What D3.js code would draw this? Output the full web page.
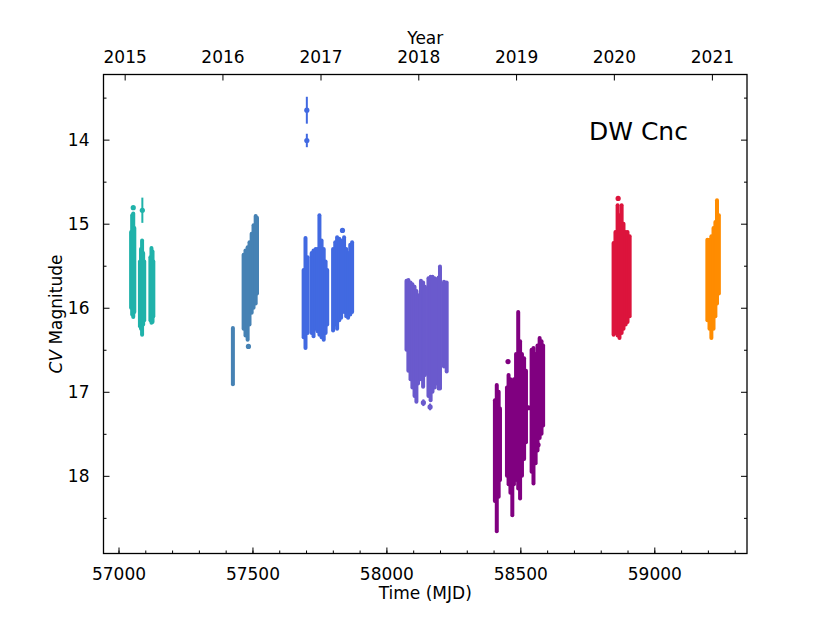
<!DOCTYPE html>
<html>
<head>
<meta charset="utf-8">
<script src="https://cdn.jsdelivr.net/npm/d3@7"></script>
<style>
  html, body { margin: 0; padding: 0; background: #fff; }
  svg text { font-family: "DejaVu Sans", sans-serif; fill: #000; }
</style>
</head>
<body>
<div id="chart"></div>
<script>
// ------- data -------
// each strip = one observing run: [MJD, brightest mag, faintest mag]
const seasonNames = ["2015", "2016", "2017", "2018", "2019", "2020", "2021"];
const seasonColors = ["#20b2aa", "#4682b4", "#4169e1", "#6a5acd", "#800080", "#dc143c", "#ff8c00"];

const strips2015 = [
  [57047, 15.10, 16.00], [57051, 14.90, 16.08], [57055, 14.88, 16.11], [57059, 15.05, 16.05],
  [57080, 15.45, 16.22], [57084, 15.30, 16.25], [57088, 15.20, 16.32], [57092, 15.35, 16.20], [57096, 15.45, 16.15],
  [57119, 15.40, 16.15], [57123, 15.29, 16.18], [57127, 15.33, 16.17], [57130, 15.45, 16.10]
];
const strips2016 = [
  [57427, 16.24, 16.91],
  [57467, 15.37, 16.25], [57474, 15.32, 16.33], [57482, 15.28, 16.38], [57489, 15.22, 16.20],
  [57497, 15.12, 16.06], [57504, 15.02, 16.00], [57512, 14.91, 15.95], [57517, 14.93, 15.83]
];
const strips2017 = [
  [57691, 15.55, 16.35], [57698, 15.17, 16.48], [57706, 15.40, 16.30],
  [57721, 15.35, 16.30], [57728, 15.32, 16.34], [57736, 15.30, 16.25], [57743, 15.30, 16.28],
  [57750, 14.90, 16.32], [57758, 15.20, 16.35], [57766, 15.30, 16.38], [57773, 15.45, 16.30], [57779, 15.55, 16.20],
  [57801, 15.30, 16.27], [57809, 15.22, 16.20], [57816, 15.16, 16.25], [57824, 15.18, 16.15],
  [57831, 15.20, 16.12], [57842, 15.16, 16.05], [57850, 15.30, 16.10], [57857, 15.35, 16.12],
  [57865, 15.25, 16.08], [57872, 15.22, 16.05]
];
const strips2018 = [
  [58075, 15.68, 16.50], [58082, 15.67, 16.75], [58090, 15.70, 16.85], [58097, 15.72, 16.95],
  [58105, 15.75, 17.05], [58112, 15.80, 17.12], [58118, 15.85, 16.90],
  [58129, 15.68, 16.85], [58137, 15.70, 16.94], [58144, 15.75, 16.80],
  [58157, 15.65, 17.05], [58165, 15.63, 17.10], [58172, 15.63, 17.00], [58180, 15.65, 16.95],
  [58187, 15.66, 16.90], [58195, 15.64, 16.96], [58200, 15.51, 16.96],
  [58215, 15.69, 16.70], [58225, 15.70, 16.76]
];
const strips2019 = [
  [58405, 17.10, 18.30], [58412, 16.92, 18.66], [58419, 17.00, 18.25], [58424, 17.20, 18.05],
  [58450, 16.95, 18.00], [58456, 16.80, 18.10], [58463, 16.85, 18.20], [58470, 16.90, 18.47],
  [58476, 16.85, 18.10], [58484, 16.55, 18.05], [58492, 16.05, 18.15], [58499, 16.40, 18.27],
  [58506, 16.55, 18.00], [58514, 16.60, 17.80], [58521, 16.75, 17.60],
  [58542, 16.50, 17.95], [58549, 16.48, 18.09], [58557, 16.55, 17.85],
  [58564, 16.45, 17.70], [58572, 16.36, 17.55], [58579, 16.40, 17.50], [58585, 16.45, 17.40]
];
const strips2020 = [
  [58848, 15.23, 16.32], [58855, 15.10, 16.30], [58863, 14.78, 16.33], [58870, 14.90, 16.36],
  [58878, 14.78, 16.30], [58885, 15.00, 16.25], [58893, 15.10, 16.20], [58900, 15.10, 16.17],
  [58908, 15.15, 16.10]
];
const strips2021 = [
  [59198, 15.19, 16.15], [59206, 15.19, 16.25], [59213, 15.15, 16.36], [59221, 15.05, 16.25],
  [59228, 14.98, 16.10], [59234, 14.72, 15.95], [59241, 14.90, 15.83]
];
const seasonStrips = [strips2015, strips2016, strips2017, strips2018, strips2019, strips2020, strips2021];

// isolated points: [MJD, mag, error, season index]
const singlePoints = [
  [57055, 14.81, 0.02, 0], [57089, 14.84, 0.15, 0],
  [57485, 16.46, 0.02, 1],
  [57703, 13.65, 0.16, 2], [57703, 14.01, 0.08, 2], [57836, 15.08, 0.02, 2],
  [58138, 17.13, 0.04, 3], [58163, 17.18, 0.04, 3],
  [58454, 16.64, 0.02, 4], [58566, 17.63, 0.02, 4], [58530, 17.19, 0.02, 4],
  [58865, 14.70, 0.02, 5]
];

const xTicksMajor = [57000, 57500, 58000, 58500, 59000];
const yTicksMajor = [14, 15, 16, 17, 18];
const yearLabels = ["2015", "2016", "2017", "2018", "2019", "2020", "2021"];
const yearMJD = [57023, 57388, 57754, 58119, 58484, 58849, 59215];

// ------- layout -------
const W = 830, H = 623;
const L = 103.5, R = 747, T = 74.5, B = 553.5;

const svg = d3.select("#chart").append("svg")
  .attr("width", W).attr("height", H);

const x = d3.scaleLinear().domain([56944, 59346]).range([L, R]);
const y = d3.scaleLinear().domain([13.225, 18.924]).range([T, B]);

// ------- data marks -------
const gData = svg.append("g");

seasonStrips.forEach((strips, i) => {
  gData.append("g")
    .selectAll("line")
    .data(strips)
    .enter()
    .append("line")
    .attr("x1", d => x(d[0])).attr("x2", d => x(d[0]))
    .attr("y1", d => y(d[1])).attr("y2", d => y(d[2]))
    .attr("stroke", seasonColors[i])
    .attr("stroke-width", 4)
    .attr("stroke-linecap", "round");
});

const pts = gData.append("g").selectAll("g")
  .data(singlePoints)
  .enter()
  .append("g");

pts.append("line")
  .attr("x1", d => x(d[0])).attr("x2", d => x(d[0]))
  .attr("y1", d => y(d[1] - d[2])).attr("y2", d => y(d[1] + d[2]))
  .attr("stroke", d => seasonColors[d[3]])
  .attr("stroke-width", 2);

pts.append("circle")
  .attr("cx", d => x(d[0]))
  .attr("cy", d => y(d[1]))
  .attr("r", 2.6)
  .attr("fill", d => seasonColors[d[3]]);

// ------- axes -------
const styleAxis = (g) => {
  g.select(".domain").remove();
  g.selectAll("line").attr("stroke", "#000").attr("stroke-width", 1);
  g.selectAll("text").style("font-size", "17px").attr("fill", "#000");
};

// bottom
svg.append("g")
  .attr("transform", `translate(0,${B})`)
  .call(d3.axisBottom(x).tickValues(d3.range(57000, 59301, 100)).tickSize(-3).tickFormat(""))
  .call(styleAxis);
svg.append("g")
  .attr("transform", `translate(0,${B})`)
  .call(d3.axisBottom(x).tickValues(xTicksMajor).tickSize(-6).tickPadding(14).tickFormat(d3.format("d")))
  .call(styleAxis);

// top (years)
svg.append("g")
  .attr("transform", `translate(0,${T})`)
  .call(d3.axisTop(x).tickValues(yearMJD).tickSize(-6).tickPadding(12)
    .tickFormat((d, i) => yearLabels[i]))
  .call(styleAxis);

// left + right
const yMinor = d3.range(13.5, 18.91, 0.5).filter(v => !yTicksMajor.includes(v));
[[d3.axisLeft, L], [d3.axisRight, R]].forEach(([ax, pos], k) => {
  svg.append("g")
    .attr("transform", `translate(${pos},0)`)
    .call(ax(y).tickValues(yMinor).tickSize(-3).tickFormat(""))
    .call(styleAxis);
  svg.append("g")
    .attr("transform", `translate(${pos},0)`)
    .call(ax(y).tickValues(yTicksMajor).tickSize(-6).tickPadding(14)
      .tickFormat(k === 0 ? d3.format("d") : ""))
    .call(styleAxis);
});

// frame
svg.append("rect")
  .attr("x", L).attr("y", T)
  .attr("width", R - L).attr("height", B - T)
  .attr("fill", "none")
  .attr("stroke", "#000")
  .attr("stroke-width", 1.3);

// ------- labels -------
svg.append("text")
  .attr("x", (L + R) / 2).attr("y", 599)
  .attr("text-anchor", "middle")
  .style("font-size", "17px")
  .text("Time (MJD)");

svg.append("text")
  .attr("x", (L + R) / 2).attr("y", 44)
  .attr("text-anchor", "middle")
  .style("font-size", "17px")
  .text("Year");

const yl = svg.append("text")
  .attr("transform", `translate(62,${(T + B) / 2}) rotate(-90)`)
  .attr("text-anchor", "middle")
  .style("font-size", "17px");
yl.append("tspan").style("font-style", "italic").text("CV");
yl.append("tspan").text(" Magnitude");

svg.append("text")
  .attr("x", 589).attr("y", 140)
  .style("font-size", "25px")
  .text("DW Cnc");
</script>
</body>
</html>
